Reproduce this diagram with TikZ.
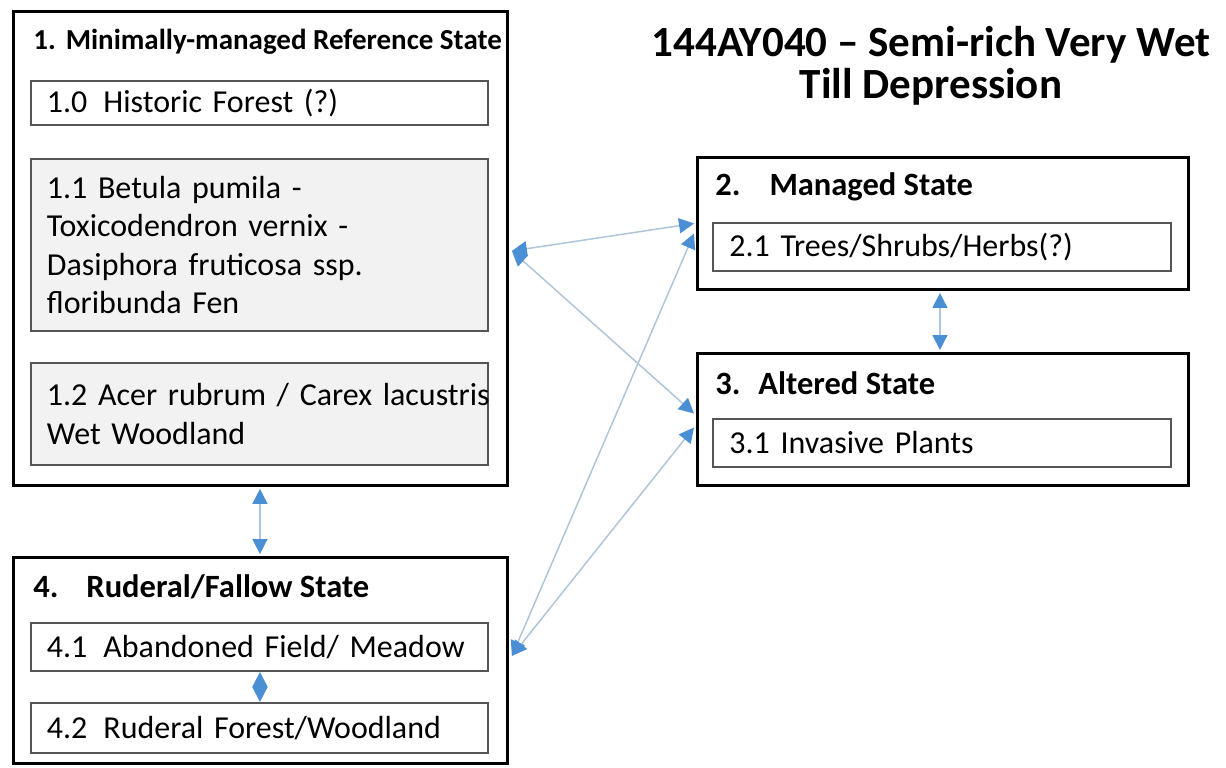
\documentclass[tikz,border=0pt]{standalone}
\usepackage{fontspec}
\setmainfont{Carlito}
\usetikzlibrary{arrows.meta}
\definecolor{tipblue}{HTML}{4A8FD4}
\definecolor{linkgray}{HTML}{AFC6DA}
\definecolor{cellgray}{HTML}{F2F2F2}
\definecolor{cellline}{HTML}{555555}

\begin{document}
\begin{tikzpicture}[x=0.02cm,y=-0.02cm,%
% common options for the state boxes:
state/.style = {draw, line width=1.7pt, anchor=north west, inner sep=0},
% common options for the phases inside:
phase/.style = {draw=cellline, line width=1.1pt, anchor=north west,
            align=left, text width=8.5cm, inner xsep=0.32cm, inner ysep=0,
            font=\fontsize{18.2}{21.8}\selectfont},
head/.style = {anchor=west, inner sep=0, font=\fontsize{18.5}{21}\selectfont\bfseries},
% common options for the arrows:
link/.style = {draw=linkgray, line width=0.85pt,
            {Triangle[length=0.3cm,width=0.3cm,color=tipblue]}-{Triangle[length=0.3cm,width=0.3cm,color=tipblue]}}]
\useasboundingbox (0,0) rectangle (1226,767);
% state 1
\node[state,minimum width=9.88cm,minimum height=9.48cm] (S1) at (12,10) {};
\node[head,font=\fontsize{16.5}{19}\selectfont\bfseries] (H1) at (33,42) {1.\hspace{0.2cm}Minimally-managed Reference State};
\node[phase,minimum width=9.14cm,minimum height=0.88cm] (P10) at (30,80) {1.0\hspace{0.32cm}Historic Forest (?)};
\node[phase,fill=cellgray,minimum width=9.14cm,minimum height=3.44cm] (P11) at (30,158)
    {1.1 Betula pumila -\\Toxicodendron vernix -\\Dasiphora fruticosa ssp.\\floribunda Fen};
\node[phase,fill=cellgray,minimum width=9.14cm,minimum height=2.04cm] (P12) at (30,362)
    {\mbox{1.2 Acer rubrum / Carex lacustris}\\Wet Woodland};
% state 2
\node[state,minimum width=9.82cm,minimum height=2.64cm] (S2) at (696,156) {};
\node[head] (H2) at (715,187) {2.\hspace{0.58cm}Managed State};
\node[phase,minimum width=9.16cm,minimum height=0.96cm] (P21) at (712,222) {2.1 Trees/Shrubs/Herbs(?)};
% state 3
\node[state,minimum width=9.82cm,minimum height=2.64cm] (S3) at (696,352) {};
\node[head] (H3) at (715,383) {3.\hspace{0.36cm}Altered State};
\node[phase,minimum width=9.16cm,minimum height=0.96cm] (P31) at (712,418) {3.1 Invasive Plants};
% state 4
\node[state,minimum width=9.88cm,minimum height=4.12cm] (S4) at (12,556) {};
\node[head] (H4) at (33,587) {4.\hspace{0.56cm}Ruderal/Fallow State};
\node[phase,minimum width=9.14cm,minimum height=0.96cm] (P41) at (30,622) {4.1\hspace{0.32cm}Abandoned Field/ Meadow};
\node[phase,minimum width=9.14cm,minimum height=1.0cm] (P42) at (30,702) {4.2\hspace{0.32cm}Ruderal Forest/Woodland};
% title
\node[align=center,inner sep=0,font=\fontsize{24.5}{24}\selectfont\bfseries] (T) at (931,66)
    {144AY040 -- Semi-rich Very Wet\\Till Depression};
% transitions
\coordinate (A1) at ([xshift=0.06cm,yshift=-0.12cm]S1.east |- P11.east);
\coordinate (A4) at ([xshift=0.06cm,yshift=-0.18cm]S1.east |- P41.east);
\draw[link] (A1) -- ([xshift=-0.04cm]S2.west);
\draw[link] (A1) -- ([xshift=-0.04cm,yshift=0.12cm]S3.west);
\draw[link] (A4) -- ([xshift=-0.04cm,yshift=-0.2cm]S2.west);
\draw[link] (A4) -- ([xshift=-0.04cm,yshift=-0.16cm]S3.west);
\draw[link] ([xshift=4.96cm,yshift=-0.04cm]S1.south west) -- ([xshift=4.96cm,yshift=0.04cm]S4.north west);
\draw[link] ([xshift=4.88cm,yshift=-0.04cm]S2.south west) -- ([xshift=4.88cm,yshift=0.04cm]S3.north west);
\draw[link] ([xshift=4.6cm]P41.south west) -- ([xshift=4.6cm]P42.north west);
\end{tikzpicture}
\end{document}
